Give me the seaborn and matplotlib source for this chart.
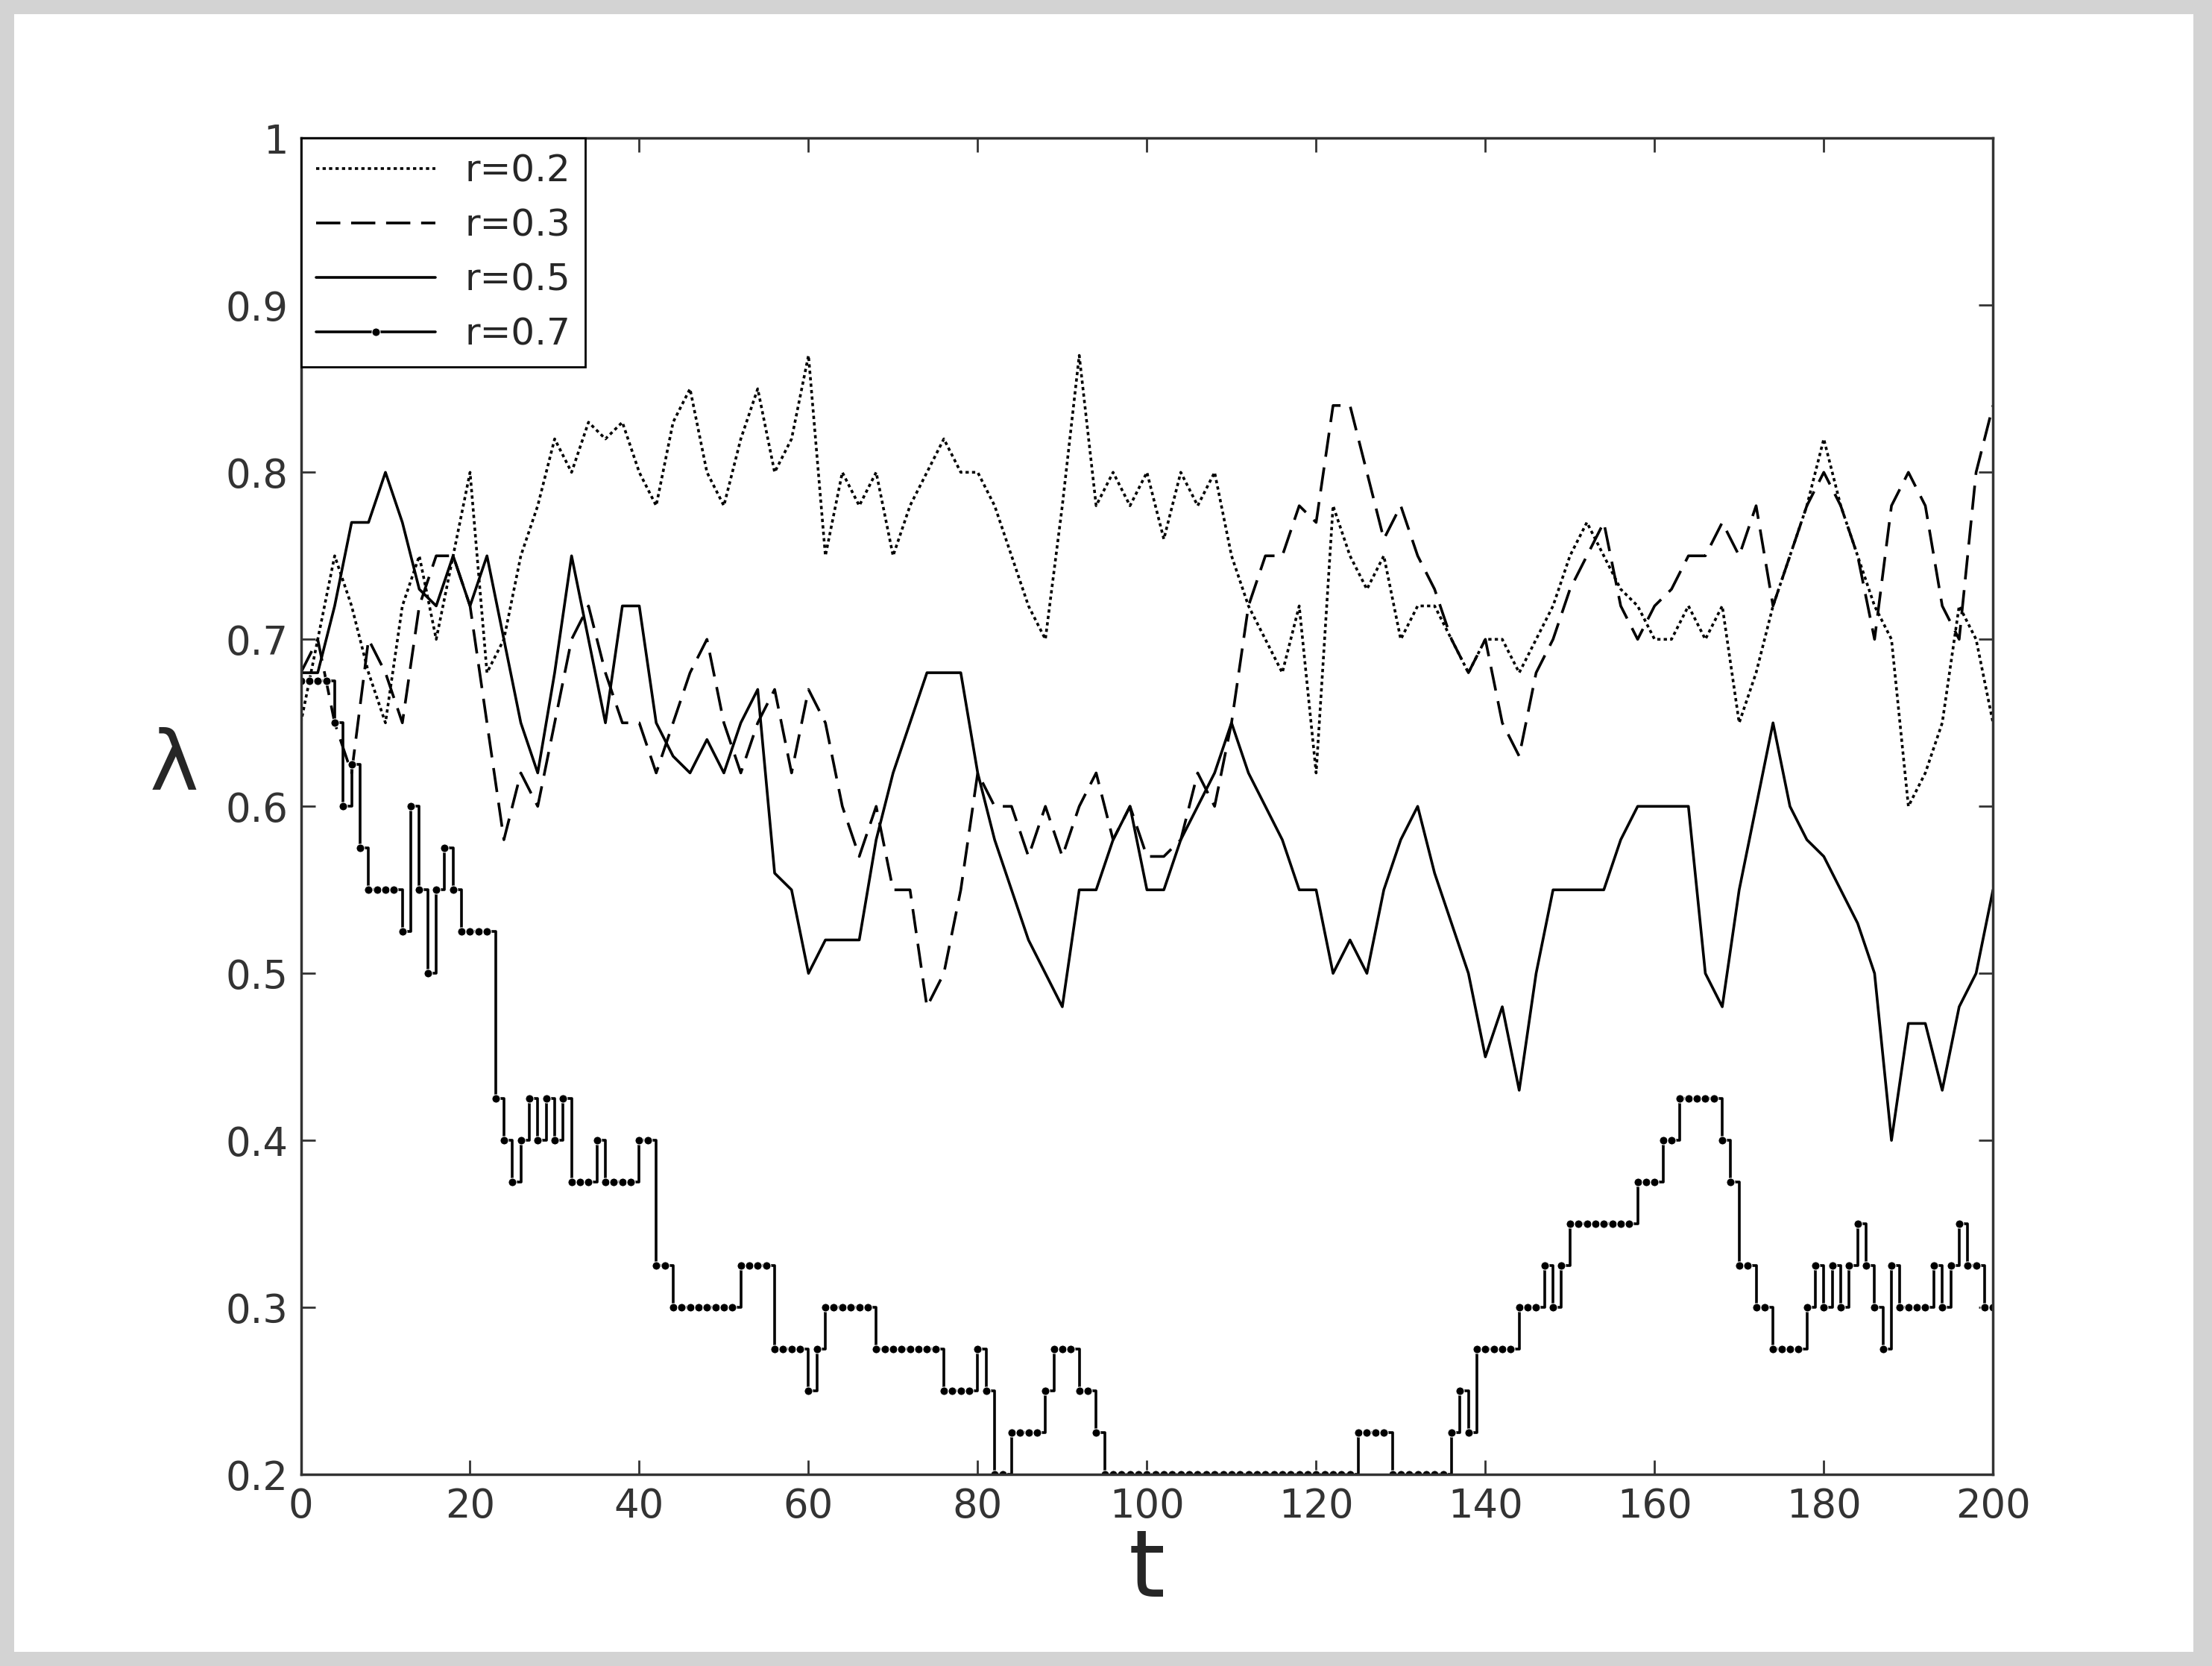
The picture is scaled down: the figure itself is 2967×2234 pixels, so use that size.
import numpy as np
import pandas as pd
import seaborn as sns
import matplotlib.pyplot as plt
from matplotlib.patches import Rectangle

t_fine = list(range(0, 201))
t_coarse = list(range(0, 201, 2))

r07 = ([0.675] * 4 + [0.65, 0.6, 0.625, 0.575] + [0.55] * 4 + [0.525, 0.6, 0.55, 0.5, 0.55, 0.575, 0.55, 0.525]
       + [0.525] * 3 + [0.425, 0.4, 0.375, 0.4, 0.425, 0.4, 0.425, 0.4, 0.425, 0.375, 0.375, 0.375, 0.4]
       + [0.375] * 4 + [0.4, 0.4, 0.325, 0.325] + [0.3] * 8 + [0.325] * 4 + [0.275] * 4 + [0.25, 0.275]
       + [0.3] * 6 + [0.275] * 8 + [0.25] * 4 + [0.275, 0.25, 0.2, 0.2] + [0.225] * 4 + [0.25, 0.275, 0.275, 0.275]
       + [0.25, 0.25, 0.225] + [0.2] * 30 + [0.225] * 4 + [0.2] * 7 + [0.225, 0.25, 0.225] + [0.275] * 5
       + [0.3] * 3 + [0.325, 0.3, 0.325] + [0.35] * 8 + [0.375] * 3 + [0.4, 0.4] + [0.425] * 5
       + [0.4, 0.375, 0.325, 0.325, 0.3, 0.3] + [0.275] * 4
       + [0.3, 0.325, 0.3, 0.325, 0.3, 0.325, 0.35, 0.325, 0.3, 0.275, 0.325, 0.3, 0.3, 0.3, 0.3,
          0.325, 0.3, 0.325, 0.35, 0.325, 0.325, 0.3, 0.3])

r05 = [0.68, 0.68, 0.72, 0.77, 0.77, 0.8, 0.77, 0.73, 0.72, 0.75, 0.72, 0.75, 0.70, 0.65, 0.62, 0.68, 0.75,
       0.70, 0.65, 0.72, 0.72, 0.65, 0.63, 0.62, 0.64, 0.62, 0.65, 0.67, 0.56, 0.55, 0.50, 0.52, 0.52, 0.52,
       0.58, 0.62, 0.65, 0.68, 0.68, 0.68, 0.62, 0.58, 0.55, 0.52, 0.50, 0.48, 0.55, 0.55, 0.58, 0.60, 0.55,
       0.55, 0.58, 0.60, 0.62, 0.65, 0.62, 0.60, 0.58, 0.55, 0.55, 0.50, 0.52, 0.50, 0.55, 0.58, 0.60, 0.56,
       0.53, 0.50, 0.45, 0.48, 0.43, 0.50, 0.55, 0.55, 0.55, 0.55, 0.58, 0.60, 0.60, 0.60, 0.60, 0.50, 0.48,
       0.55, 0.60, 0.65, 0.60, 0.58, 0.57, 0.55, 0.53, 0.50, 0.40, 0.47, 0.47, 0.43, 0.48, 0.50, 0.55]

r03 = [0.68, 0.70, 0.65, 0.62, 0.70, 0.68, 0.65, 0.72, 0.75, 0.75, 0.72, 0.65, 0.58, 0.62, 0.60, 0.65, 0.70,
       0.72, 0.68, 0.65, 0.65, 0.62, 0.65, 0.68, 0.70, 0.65, 0.62, 0.65, 0.67, 0.62, 0.67, 0.65, 0.60, 0.57,
       0.60, 0.55, 0.55, 0.48, 0.50, 0.55, 0.62, 0.60, 0.60, 0.57, 0.60, 0.57, 0.60, 0.62, 0.58, 0.60, 0.57,
       0.57, 0.58, 0.62, 0.60, 0.65, 0.72, 0.75, 0.75, 0.78, 0.77, 0.84, 0.84, 0.80, 0.76, 0.78, 0.75, 0.73,
       0.70, 0.68, 0.70, 0.65, 0.63, 0.68, 0.70, 0.73, 0.75, 0.77, 0.72, 0.70, 0.72, 0.73, 0.75, 0.75, 0.77,
       0.75, 0.78, 0.72, 0.75, 0.78, 0.80, 0.78, 0.75, 0.70, 0.78, 0.80, 0.78, 0.72, 0.70, 0.80, 0.84]

r02 = [0.65, 0.70, 0.75, 0.72, 0.68, 0.65, 0.72, 0.75, 0.70, 0.75, 0.80, 0.68, 0.70, 0.75, 0.78, 0.82, 0.80,
       0.83, 0.82, 0.83, 0.80, 0.78, 0.83, 0.85, 0.80, 0.78, 0.82, 0.85, 0.80, 0.82, 0.87, 0.75, 0.80, 0.78,
       0.80, 0.75, 0.78, 0.80, 0.82, 0.80, 0.80, 0.78, 0.75, 0.72, 0.70, 0.78, 0.87, 0.78, 0.80, 0.78, 0.80,
       0.76, 0.80, 0.78, 0.80, 0.75, 0.72, 0.70, 0.68, 0.72, 0.62, 0.78, 0.75, 0.73, 0.75, 0.70, 0.72, 0.72,
       0.70, 0.68, 0.70, 0.70, 0.68, 0.70, 0.72, 0.75, 0.77, 0.75, 0.73, 0.72, 0.70, 0.70, 0.72, 0.70, 0.72,
       0.65, 0.68, 0.72, 0.75, 0.78, 0.82, 0.78, 0.75, 0.72, 0.70, 0.60, 0.62, 0.65, 0.72, 0.70, 0.65]

sns.set_theme(style="ticks")
plt.rcParams['font.family'] = ['DejaVu Sans']

fig = plt.figure(figsize=(29.67, 22.34), dpi=100, facecolor='#d3d3d3')
# white inner panel behind the axes
panel = Rectangle((0.0064, 0.0085), 0.9853, 0.983, transform=fig.transFigure,
                  facecolor='white', edgecolor='none', zorder=-10)
fig.add_artist(panel)
ax = fig.add_axes([0.136, 0.115, 0.765, 0.802])
ax.set_zorder(5)

lw = 2.6
sns.lineplot(x=t_coarse, y=r02, ax=ax, color='black', lw=lw, linestyle=(0, (1.2, 1.2)), label='r=0.2')
sns.lineplot(x=t_coarse, y=r03, ax=ax, color='black', lw=lw, linestyle=(0, (9, 4)), label='r=0.3')
sns.lineplot(x=t_coarse, y=r05, ax=ax, color='black', lw=lw, label='r=0.5')
sns.lineplot(x=t_fine, y=r07, ax=ax, color='black', lw=lw, marker='o', markersize=8,
             drawstyle='steps-post', label='r=0.7')

ax.set_xlim(0, 200)
ax.set_ylim(0.2, 1.0)
ax.set_xticks(range(0, 201, 20))
ax.set_yticks(np.arange(0.2, 1.01, 0.1))
ax.set_yticklabels(['0.2', '0.3', '0.4', '0.5', '0.6', '0.7', '0.8', '0.9', '1'])
ax.tick_params(direction='in', length=14, width=2, labelsize=38, colors='#333333',
               top=True, right=True, pad=12)
for s in ax.spines.values():
    s.set_linewidth(2.5)
    s.set_color('#333333')
ax.set_xlabel('t', fontsize=90, labelpad=0)
ax.set_ylabel('λ', fontsize=80, rotation=0, labelpad=50)

leg = ax.legend(loc='upper left', fontsize=36, frameon=True, fancybox=False, framealpha=1,
                edgecolor='black', borderaxespad=0, handlelength=3.2)
leg.get_frame().set_linewidth(2)

fig.savefig('out.png', dpi=100, facecolor=fig.get_facecolor())
